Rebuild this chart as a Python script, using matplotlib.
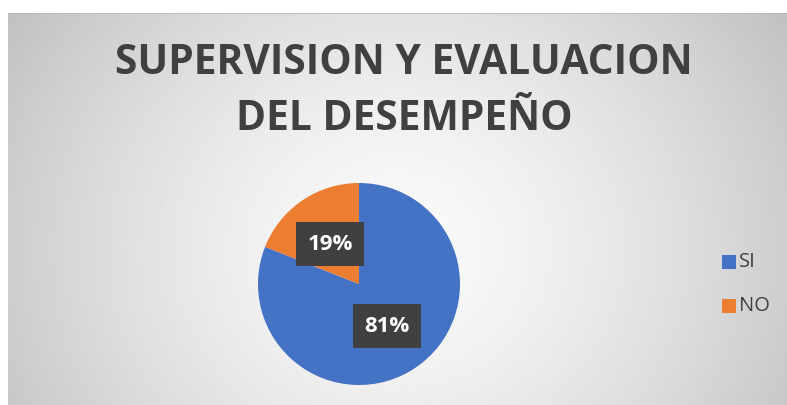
import numpy as np
import matplotlib
matplotlib.use("Agg")
import matplotlib.pyplot as plt

labels = ["SI", "NO"]
values = [81, 19]
colors = ["#4472C4", "#ED7D31"]
title = "SUPERVISION Y EVALUACION\nDEL DESEMPEÑO"

plt.rcParams["font.family"] = ["Open Sans", "DejaVu Sans"]

W, H = 787, 405
fig = plt.figure(figsize=(W / 100, H / 100), dpi=100)
fig.patch.set_facecolor("white")

# background panel with radial gradient
bg = fig.add_axes([8 / W, 0, 1 - 8 / W, 1 - 13 / H])
bg.set_axis_off()
ny, nx = 200, 400
yy, xx = np.mgrid[0:ny, 0:nx]
cx, cy = nx * 0.5, ny * 0.6
d = np.sqrt(((xx - cx) / nx) ** 2 + ((yy - cy) / ny * 0.55) ** 2)
d = d / d.max()
shade = 0.985 - 0.23 * np.clip(d, 0, 1) ** 1.4
bg.imshow(shade, cmap="gray", vmin=0, vmax=1, aspect="auto", origin="upper",
          extent=[0, 1, 0, 1])
bg.set_xlim(0, 1); bg.set_ylim(0, 1)
bg.plot([0, 1], [1, 1], color="#b8b8b8", lw=1.2)

tx = 404 / W
fig.text(tx, 1 - 63 / H, title.split("\n")[0], ha="center", va="center",
         fontsize=29.3, fontweight="bold", color="#404040")
fig.text(tx, 1 - 120 / H, title.split("\n")[1], ha="center", va="center",
         fontsize=29.3, fontweight="bold", color="#404040")

# pie
r = 101
ax = fig.add_axes([(359 - r) / W, (H - 284 - r) / H, 2 * r / W, 2 * r / H])
wedges, _ = ax.pie(values, colors=colors, startangle=90, counterclock=False,
                   radius=1)
ax.set_xlim(-1, 1); ax.set_ylim(-1, 1)
ax.set_aspect("auto")

label_pos = [(387, 326), (330, 244)]
for v, (px, py) in zip(values, label_pos):
    fig.text(px / W, 1 - py / H, f"{v}%", ha="center", va="center",
             fontsize=16, fontweight="bold", color="white",
             bbox=dict(boxstyle="square,pad=0.5", fc="#404040", ec="none"))

# legend
for lab, col, py in zip(labels, colors, [262, 306]):
    fig.patches.append(plt.Rectangle(((729 - 7) / W, 1 - (py + 7) / H), 14 / W, 14 / H,
                                     transform=fig.transFigure, fc=col, ec="none"))
    fig.text(739 / W, 1 - py / H, lab, ha="left", va="center", fontsize=14.5,
             color="#404040")

fig.savefig("out.png", dpi=100)
